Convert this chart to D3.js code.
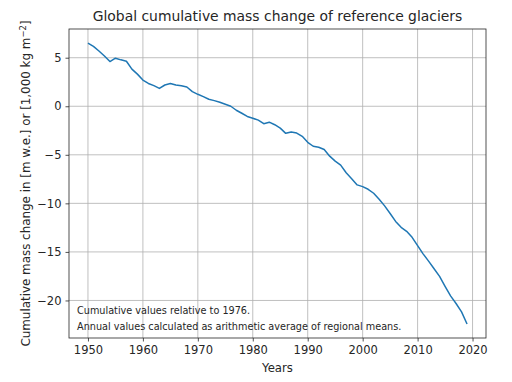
<!DOCTYPE html>
<html>
<head>
<meta charset="utf-8">
<script src="https://cdn.jsdelivr.net/npm/d3@7"></script>
<style>
  body { margin: 0; background: #fff; }
  text { font-family: "DejaVu Sans", sans-serif; fill: #262626; }
</style>
</head>
<body>
<svg id="chart" width="512" height="382"></svg>
<script>
// Data
const years = d3.range(1950, 2020);
const massChange = [
  6.51, 6.17, 5.69, 5.18, 4.60, 4.95, 4.78, 4.64, 3.82, 3.31,
  2.70, 2.35, 2.12, 1.84, 2.19, 2.35, 2.19, 2.12, 1.98, 1.50,
  1.23, 0.99, 0.72, 0.58, 0.41, 0.20, 0.00, -0.41, -0.72, -1.05,
  -1.23, -1.43, -1.80, -1.64, -1.90, -2.25, -2.79, -2.66, -2.76, -3.10,
  -3.71, -4.12, -4.22, -4.46, -5.14, -5.65, -6.06, -6.85, -7.46, -8.10,
  -8.28, -8.55, -8.96, -9.57, -10.26, -11.04, -11.86, -12.47, -12.88, -13.50,
  -14.35, -15.20, -15.95, -16.73, -17.52, -18.54, -19.53, -20.31, -21.17, -22.42
];
const xTicks = [1950, 1960, 1970, 1980, 1990, 2000, 2010, 2020];
const yTicks = [5, 0, -5, -10, -15, -20];
const notes = [
  "Cumulative values relative to 1976.",
  "Annual values calculated as arithmetic average of regional means."
];

const svg = d3.select("#chart");
const mLeft = 69, mRight = 486, mTop = 29, mBottom = 338;

// matplotlib-like 5% margins
const xExt = d3.extent(years), yExt = d3.extent(massChange);
const xPad = (xExt[1] - xExt[0]) * 0.05, yPad = (yExt[1] - yExt[0]) * 0.05;

const x = d3.scaleLinear().domain([xExt[0] - xPad, xExt[1] + xPad]).range([mLeft, mRight]);
const y = d3.scaleLinear().domain([yExt[0] - yPad, yExt[1] + yPad]).range([mBottom, mTop]);

// grid
svg.append("g").selectAll("line").data(xTicks).join("line")
  .attr("x1", d => x(d)).attr("x2", d => x(d))
  .attr("y1", mTop).attr("y2", mBottom)
  .attr("stroke", "#b0b0b0").attr("stroke-width", 0.8);
svg.append("g").selectAll("line").data(yTicks).join("line")
  .attr("x1", mLeft).attr("x2", mRight)
  .attr("y1", d => y(d)).attr("y2", d => y(d))
  .attr("stroke", "#b0b0b0").attr("stroke-width", 0.8);

// line
const line = d3.line().x((d, i) => x(years[i])).y(d => y(d));
svg.append("path").datum(massChange)
  .attr("d", line)
  .attr("fill", "none")
  .attr("stroke", "#1f77b4")
  .attr("stroke-width", 1.5)
  .attr("stroke-linejoin", "round");

// axes
const xAxis = d3.axisBottom(x).tickValues(xTicks).tickFormat(d3.format("d")).tickSize(3.5).tickPadding(4);
const yAxis = d3.axisLeft(y).tickValues(yTicks).tickFormat(d => d < 0 ? "\u2212" + Math.abs(d) : d).tickSize(3.5).tickPadding(4);

const gx = svg.append("g").attr("transform", `translate(0,${mBottom})`).call(xAxis);
const gy = svg.append("g").attr("transform", `translate(${mLeft},0)`).call(yAxis);
[gx, gy].forEach(g => {
  g.select(".domain").remove();
  g.selectAll(".tick line").attr("stroke", "#262626").attr("stroke-width", 0.8);
  g.selectAll(".tick text").attr("font-size", 11.5).attr("font-family", "DejaVu Sans").attr("fill", "#262626");
});

// frame
svg.append("rect")
  .attr("x", mLeft).attr("y", mTop)
  .attr("width", mRight - mLeft).attr("height", mBottom - mTop)
  .attr("fill", "none").attr("stroke", "#262626").attr("stroke-width", 0.8);

// notes
svg.append("g").selectAll("text").data(notes).join("text")
  .attr("x", mLeft + 8)
  .attr("y", (d, i) => 314 + i * 16)
  .attr("font-size", 9.7)
  .text(d => d);

// title & labels
svg.append("text")
  .attr("x", (mLeft + mRight) / 2).attr("y", 21)
  .attr("text-anchor", "middle").attr("font-size", 13.9)
  .text("Global cumulative mass change of reference glaciers");

svg.append("text")
  .attr("x", (mLeft + mRight) / 2).attr("y", 372)
  .attr("text-anchor", "middle").attr("font-size", 11.7)
  .text("Years");

const yl = svg.append("text")
  .attr("transform", `translate(30,${(mTop + mBottom) / 2}) rotate(-90)`)
  .attr("text-anchor", "middle").attr("font-size", 11.9);
yl.append("tspan").text("Cumulative mass change in [m w.e.] or [1,000 kg m");
yl.append("tspan").attr("dy", -4.5).attr("font-size", 8.5).text("\u22122");
yl.append("tspan").attr("dy", 4.5).text("]");
</script>
</body>
</html>
